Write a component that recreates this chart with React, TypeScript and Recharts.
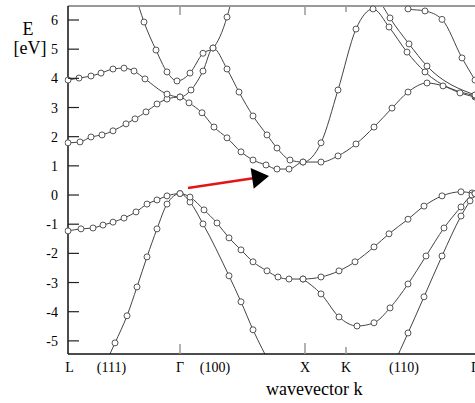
import { LineChart, Line, XAxis, YAxis, ReferenceLine } from "recharts";

type Pt = [number, number];

const SERIF = '"Liberation Serif", "Times New Roman", serif';

// wavevector in units of Γ–X: L = 0, Γ = 0.896, X = 1.896, K = 2.224, Γ = 3.256
const K_MAX = 3.256;
const E_MIN = -5.45;
const E_MAX = 6.48;

const X_LABEL_K = [0.012, 0.348, 0.896, 1.176, 1.896, 2.224, 2.688, 3.256];
const X_LABELS = ["L", "(111)", "Γ", "(100)", "X", "K", "(110)", "Γ"];
const SYM_K = [0.896, 1.896, 2.224];
const BOTTOM_MARK = [10, 11, 7];
const TOP_MARK = [9, 9, 6];
const Y_TICKS = [-5, -4, -3, -2, -1, 0, 1, 2, 3, 4, 5, 6];

// valence bands [k, E(eV)]
const vb1: Pt[] = [
  [0.296, -5.82], [0.376, -5.07], [0.472, -4.14], [0.552, -3.15], [0.632, -2.12],
  [0.712, -1.16], [0.792, -0.31], [0.896, 0.05], [0.976, -0.24], [1.08, -0.99],
  [1.288, -2.77], [1.384, -3.66], [1.48, -4.62], [1.624, -5.85],
];
const vb2: Pt[] = [
  [0, -1.23], [0.104, -1.16], [0.2, -1.13], [0.28, -1.03], [0.36, -0.93],
  [0.448, -0.79], [0.544, -0.58], [0.632, -0.31], [0.712, -0.17], [0.792, -0.03],
  [0.896, 0.05], [0.976, -0.07], [1.088, -0.51], [1.192, -0.96], [1.288, -1.47],
  [1.384, -1.88], [1.48, -2.29], [1.592, -2.6], [1.68, -2.81], [1.768, -2.88],
  [1.88, -2.88], [2.024, -2.81], [2.168, -2.6], [2.296, -2.29], [2.448, -1.78],
  [2.568, -1.33], [2.72, -0.83], [2.848, -0.38], [2.992, -0.03], [3.144, 0.11],
  [3.232, 0.07], [3.256, 0.05],
];
const vb3: Pt[] = [
  [1.88, -2.88], [2.024, -3.39], [2.168, -4.18], [2.312, -4.49], [2.448, -4.38],
  [2.576, -3.87], [2.72, -3.05], [2.864, -2.09], [3.008, -1.13], [3.144, -0.41],
  [3.232, 0.0], [3.256, 0.05],
];
const vb4: Pt[] = [
  [2.6, -5.86], [2.72, -4.73], [2.848, -3.49], [2.992, -2.09], [3.144, -0.72],
  [3.216, -0.2], [3.256, 0.05],
];

// conduction bands
const cb1: Pt[] = [
  [0, 1.79], [0.096, 1.82], [0.184, 1.99], [0.272, 2.06], [0.36, 2.2],
  [0.464, 2.44], [0.536, 2.61], [0.624, 2.85], [0.712, 3.12], [0.792, 3.29],
  [0.896, 3.36], [0.968, 3.16], [1.072, 2.82], [1.168, 2.33], [1.272, 1.96],
  [1.384, 1.48], [1.48, 1.2], [1.584, 1.03], [1.672, 0.89], [1.768, 0.89],
  [1.88, 1.13], [2.024, 1.13], [2.16, 1.34], [2.304, 1.75], [2.448, 2.33],
  [2.592, 2.98], [2.72, 3.53], [2.872, 3.84], [3.0, 3.74], [3.136, 3.5],
  [3.256, 3.36],
];
const cb2: Pt[] = [
  [0, 3.94], [0.088, 4.01], [0.184, 4.08], [0.264, 4.18], [0.36, 4.32],
  [0.448, 4.35], [0.528, 4.25], [0.616, 3.98], [0.792, 3.46], [0.896, 3.36],
  [0.984, 3.6], [1.08, 4.25], [1.16, 5.04], [1.272, 4.32], [1.368, 3.53],
  [1.48, 2.71], [1.592, 2.06], [1.672, 1.61], [1.776, 1.2], [1.88, 1.13],
  [2.024, 1.79], [2.16, 3.6], [2.304, 5.69], [2.44, 6.38], [2.568, 5.76],
  [2.712, 4.9], [2.856, 4.22], [3.256, 3.4],
];
const cb3: Pt[] = [
  [0.536, 6.89], [0.608, 5.93], [0.704, 4.97], [0.792, 4.22], [0.872, 3.91],
  [0.976, 4.18], [1.08, 4.86], [1.16, 5.04], [1.272, 6.1], [1.32, 6.89],
];
const cb4: Pt[] = [
  [2.464, 6.89], [2.576, 6.07], [2.728, 5.18], [2.872, 4.42], [3.256, 3.43],
];
const cb5: Pt[] = [
  [2.672, 6.75], [2.72, 6.38], [2.856, 6.31], [2.992, 6.02], [3.152, 4.7],
  [3.256, 3.94],
];

const BANDS = [vb1, vb2, vb3, vb4, cb1, cb2, cb3, cb4, cb5];

// red arrow (indirect gap): from valence top to conduction minimum
const ARROW_FROM = { x: 0.96, y: 0.24 };
const ARROW_TO = { x: 1.608, y: 0.655 };

const toRows = (pts: Pt[]) => pts.map(([k, E]) => ({ k, E }));

const bottomTick = (props: any) => {
  const { x, y, payload } = props;
  const i = X_LABEL_K.indexOf(payload.value);
  const m = SYM_K.indexOf(payload.value);
  return (
    <g>
      {m >= 0 && (
        <line x1={x} x2={x} y1={y} y2={y - BOTTOM_MARK[m]} stroke="#999" strokeWidth={1.5} />
      )}
      <text x={x} y={y + 18} textAnchor="middle" fontSize={14} fontFamily={SERIF} fill="#000">
        {X_LABELS[i]}
      </text>
    </g>
  );
};

const topTick = (props: any) => {
  const { x, y, payload } = props;
  const m = SYM_K.indexOf(payload.value);
  return <line x1={x} x2={x} y1={y} y2={y + TOP_MARK[m]} stroke="#999" strokeWidth={1.5} />;
};

const leftTick = (props: any) => {
  const { x, y, payload } = props;
  return (
    <g>
      <line x1={x} x2={x + 11} y1={y} y2={y} stroke="#222" strokeWidth={1.2} />
      <text x={x - 10} y={y + 5} textAnchor="end" fontSize={14} fontFamily={SERIF} fill="#000">
        {payload.value}
      </text>
    </g>
  );
};

// axis titles: viewBox is the axis box
const yTitle = (props: any) => {
  const { x, y } = props.viewBox;
  return (
    <g fontFamily={SERIF} fontSize={18} fill="#000">
      <text x={x + 28} y={y + 29} textAnchor="middle">E</text>
      <text x={x + 30} y={y + 48} textAnchor="middle">[eV]</text>
    </g>
  );
};

const xTitle = (props: any) => {
  const { x, y, width } = props.viewBox;
  return (
    <text x={x + width * 0.605} y={y + 41} textAnchor="middle" fontFamily={SERIF} fontSize={18} fill="#000">
      wavevector k
    </text>
  );
};

const arrowShape = (props: any) => {
  const { x1, y1, x2, y2 } = props;
  const dx = x2 - x1;
  const dy = y2 - y1;
  const len = Math.hypot(dx, dy);
  const ux = dx / len;
  const uy = dy / len;
  const head = 17;
  const half = 10.5;
  const bx = x2 - ux * head;
  const by = y2 - uy * head;
  const pts = `${x2},${y2} ${bx - uy * half},${by + ux * half} ${bx + uy * half},${by - ux * half}`;
  return (
    <g>
      <line x1={x1} y1={y1} x2={bx + ux} y2={by + uy} stroke="#e21515" strokeWidth={2.5} />
      <polygon points={pts} fill="#000" />
    </g>
  );
};

export default function App() {
  return (
    <div
      style={{
        position: "absolute",
        left: 0,
        top: 0,
        width: 475,
        height: 403,
        overflow: "hidden",
        background: "#fff",
        fontFamily: SERIF,
      }}
    >
      <LineChart width={480} height={403} margin={{ top: 6, right: 5, bottom: 0, left: 0 }}>
        <XAxis
          xAxisId="b"
          type="number"
          dataKey="k"
          domain={[0, K_MAX]}
          allowDataOverflow
          ticks={X_LABEL_K}
          interval={0}
          tick={bottomTick}
          tickLine={false}
          tickSize={0}
          tickMargin={0}
          height={49}
          axisLine={{ stroke: "#111", strokeWidth: 1.5 }}
          label={{ content: xTitle }}
        />
        <XAxis
          xAxisId="t"
          orientation="top"
          mirror
          type="number"
          dataKey="k"
          domain={[0, K_MAX]}
          allowDataOverflow
          ticks={SYM_K}
          interval={0}
          tick={topTick}
          tickLine={false}
          tickSize={0}
          tickMargin={0}
          axisLine={{ stroke: "#999", strokeWidth: 2 }}
        />
        <YAxis
          yAxisId="l"
          type="number"
          domain={[E_MIN, E_MAX]}
          allowDataOverflow
          ticks={Y_TICKS}
          interval={0}
          width={68}
          tick={leftTick}
          tickLine={false}
          tickSize={0}
          tickMargin={0}
          axisLine={{ stroke: "#111", strokeWidth: 1.5 }}
          label={{ content: yTitle }}
        />
        <YAxis
          yAxisId="r"
          orientation="right"
          mirror
          type="number"
          domain={[E_MIN, E_MAX]}
          allowDataOverflow
          ticks={Y_TICKS}
          interval={0}
          tick={false}
          tickSize={9}
          tickLine={{ stroke: "#222", strokeWidth: 1.2 }}
          axisLine={false}
        />
        {BANDS.map((b, i) => (
          <Line
            key={i}
            xAxisId="b"
            yAxisId="l"
            data={toRows(b)}
            dataKey="E"
            type="monotone"
            stroke="#444"
            strokeWidth={1}
            dot={{ r: 3, fill: "#fff", stroke: "#555", strokeWidth: 1, clipDot: false }}
            activeDot={false}
            isAnimationActive={false}
          />
        ))}
        <ReferenceLine
          xAxisId="b"
          yAxisId="l"
          segment={[ARROW_FROM, ARROW_TO]}
          shape={arrowShape}
        />
      </LineChart>
    </div>
  );
}
